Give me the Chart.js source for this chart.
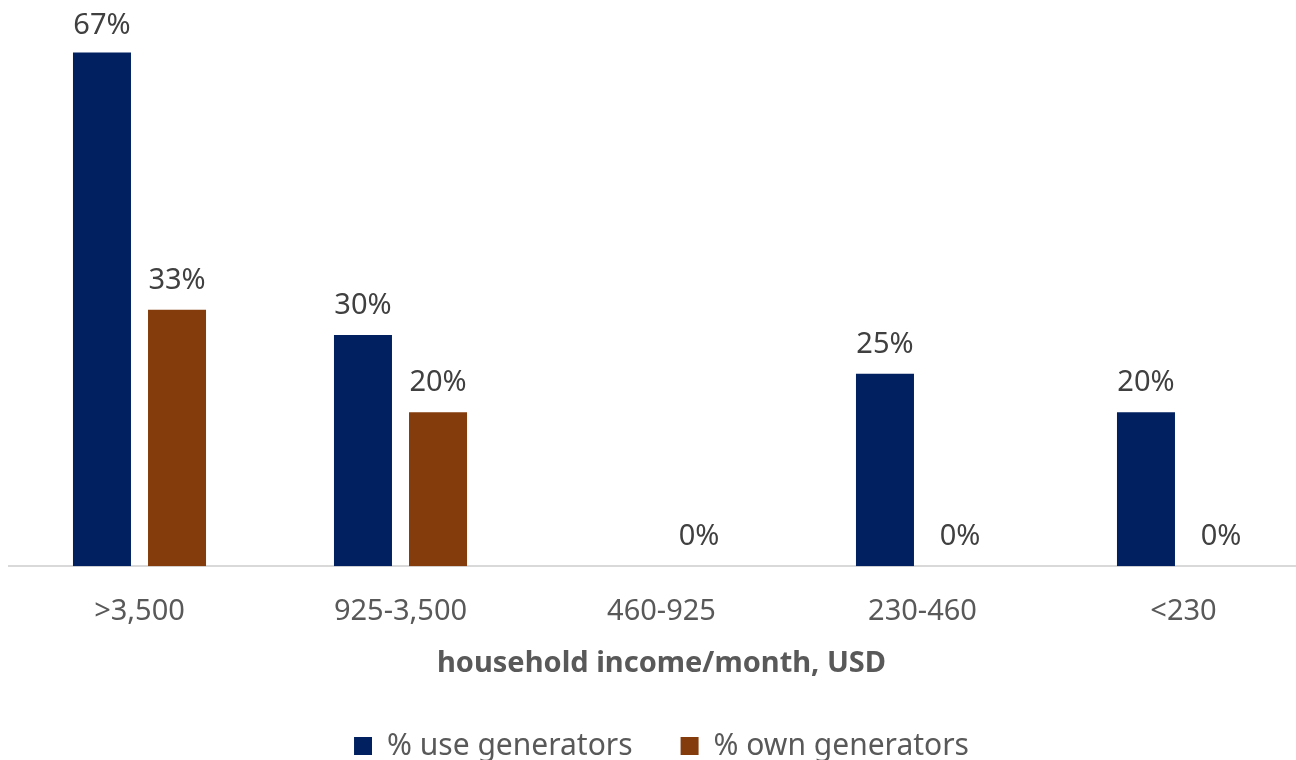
<!DOCTYPE html>
<html lang="en">
<head>
  <meta charset="UTF-8" />
  <title>Generators by household income</title>
  <style>
    html, body { margin: 0; padding: 0; background: #fff; overflow: hidden; }
    .chart-box { width: 1320px; height: 771px; position: relative; }
  </style>
</head>
<body>
  <div class="chart-box">
    <canvas id="grafico"></canvas>
  </div>

  <script src="https://cdn.jsdelivr.net/npm/chart.js"></script>
  <script>
    const categorias = ['>3,500', '925-3,500', '460-925', '230-460', '<230'];
    const usoGeneradores = [66.7, 30, null, 25, 20];
    const propiosGeneradores = [33.3, 20, 0, 0, 0];

    const fuente = '"Noto Sans", "Open Sans", sans-serif';

    // etiquetas de valor encima de cada barra
    const etiquetasValor = {
      id: 'etiquetasValor',
      afterDatasetsDraw(chart) {
        const ctx = chart.ctx;
        ctx.save();
        ctx.font = '29px ' + fuente;
        ctx.fillStyle = '#404040';
        ctx.textAlign = 'center';
        ctx.textBaseline = 'alphabetic';
        chart.data.datasets.forEach((ds, i) => {
          const meta = chart.getDatasetMeta(i);
          meta.data.forEach((bar, j) => {
            const v = ds.data[j];
            if (v === null || v === undefined) return;
            const y = Math.max(bar.y - 21, 34);
            ctx.fillText(Math.round(v) + '%', bar.x, y);
          });
        });
        ctx.restore();
      }
    };

    new Chart(document.getElementById('grafico'), {
      type: 'bar',
      data: {
        labels: categorias,
        datasets: [
          {
            label: '% use generators',
            data: usoGeneradores,
            backgroundColor: '#002060',
            categoryPercentage: 0.575,
            barPercentage: 0.773
          },
          {
            label: '% own generators',
            data: propiosGeneradores,
            backgroundColor: '#843C0C',
            categoryPercentage: 0.575,
            barPercentage: 0.773
          }
        ]
      },
      options: {
        responsive: true,
        maintainAspectRatio: false,
        animation: false,
        layout: { padding: { left: 9, right: 6, top: 27, bottom: 0 } },
        plugins: {
          legend: {
            position: 'bottom',
            labels: {
              color: '#595959',
              font: { family: fuente, size: 30 },
              boxWidth: 18,
              boxHeight: 18,
              padding: 48
            }
          },
          tooltip: { enabled: false }
        },
        scales: {
          x: {
            grid: { display: false, drawTicks: false },
            border: { color: '#d9d9d9', width: 2 },
            ticks: {
              color: '#595959',
              font: { family: fuente, size: 29, lineHeight: 1 },
              padding: 31
            },
            title: {
              display: true,
              text: 'household income/month, USD',
              color: '#595959',
              font: { family: fuente, size: 29, weight: 'bold' },
              padding: { top: -11, bottom: 2 }
            }
          },
          y: {
            display: false,
            min: 0,
            max: 70
          }
        }
      },
      plugins: [etiquetasValor]
    });
  </script>
</body>
</html>
